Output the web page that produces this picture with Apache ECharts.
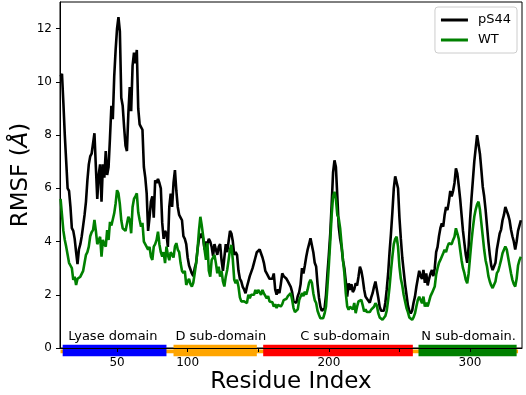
<!DOCTYPE html>
<html>
<head>
<meta charset="utf-8">
<script src="https://cdn.jsdelivr.net/npm/echarts@6/dist/echarts.min.js"></script>
<style>
  html, body { margin: 0; padding: 0; background: #fff; }
  #chart { width: 526px; height: 395px; }
</style>
</head>
<body>
<div id="chart"></div>
<script>
// RMSF per residue (residue 10 onwards)
const firstResidue = 10;
const pS44 = [
  10.2, 10.3, 9.2, 8.0, 7.0, 6.0, 5.9, 5.3, 4.5, 4.4,
  4.1, 3.6, 3.15, 3.7, 3.9, 4.2, 4.6, 5.0, 5.5, 6.3,
  6.9, 7.2, 7.3, 7.35, 8.07, 6.8, 5.6, 6.5, 6.9, 5.5,
  6.9, 6.4, 7.4, 6.5, 6.8, 7.9, 9.1, 8.6, 10.2, 11.2,
  12.0, 12.43, 11.9, 9.4, 9.1, 8.3, 7.6, 7.4, 8.8, 9.8,
  8.9, 10.6, 11.1, 10.7, 11.2, 9.0, 8.4, 8.3, 8.2, 6.8,
  6.4, 5.8, 4.4, 4.9, 5.5, 5.7, 4.9, 6.3, 6.2, 6.35,
  6.2, 6.0, 4.7, 4.1, 4.4, 4.3, 3.8, 5.3, 5.8, 5.3,
  6.2, 6.68, 5.9, 5.3, 5.0, 4.9, 4.8, 4.2, 4.1, 3.9,
  3.4, 3.1, 2.95, 2.8, 2.7, 3.0, 3.2, 3.7, 4.1, 4.2,
  4.3, 4.1, 3.7, 4.0, 3.9, 4.1, 4.0, 3.8, 3.45, 3.9,
  3.7, 3.5, 3.8, 3.9, 3.3, 2.9, 3.4, 3.9, 3.6, 4.0,
  4.4, 4.3, 4.0, 3.5, 3.6, 3.5, 2.9, 2.6, 2.5, 2.3,
  2.2, 2.06, 2.3, 2.5, 2.7, 2.7, 3.0, 3.2, 3.4, 3.6,
  3.65, 3.7, 3.75, 3.4, 3.2, 2.9, 2.8, 2.7, 2.6, 2.55,
  2.6, 2.8, 2.2, 2.0, 2.2, 2.06, 2.4, 2.8, 2.7, 2.75,
  2.6, 2.5, 2.4, 2.3, 2.1, 1.75, 1.7, 1.7, 1.95, 2.1,
  2.4, 3.0, 2.8, 3.1, 3.43, 3.7, 3.9, 4.12, 4.06, 3.6,
  3.2, 3.06, 2.4, 1.9, 1.56, 1.4, 1.37, 1.5, 2.0, 2.8,
  3.5, 4.3, 5.4, 6.6, 7.05, 6.8, 5.7, 4.56, 4.1, 3.8,
  3.3, 3.0, 2.5, 1.93, 2.43, 2.18, 2.4, 2.1, 2.2, 2.43,
  2.35, 2.68, 3.06, 2.9, 2.6, 2.2, 1.93, 1.85, 1.8, 1.7,
  1.9, 2.06, 2.3, 2.5, 2.56, 1.9, 1.55, 1.4, 1.37, 1.4,
  1.7, 2.2, 2.8, 3.6, 4.3, 5.1, 6.0, 6.45, 6.5, 6.0,
  4.9, 4.1, 3.4, 2.9, 2.4, 2.0, 1.6, 1.4, 1.3, 1.4,
  1.7, 1.93, 2.3, 2.6, 2.9, 2.7, 2.6, 2.93, 2.45, 2.8,
  2.35, 2.6, 2.8, 2.93, 2.7, 3.0, 3.6, 3.8, 4.2, 4.5,
  4.68, 4.56, 5.0, 5.3, 5.18, 5.5, 5.9, 5.7, 5.9, 6.2,
  6.75, 6.55, 6.1, 5.6, 5.0, 4.4, 3.94, 3.5, 3.2, 3.8,
  4.8, 5.6, 6.3, 7.0, 7.5, 8.0, 8.0, 7.3, 6.7, 6.06,
  5.7, 5.2, 4.6, 4.0, 3.5, 3.1, 2.93, 2.95, 3.2, 3.7,
  4.0, 4.3, 4.45, 4.8, 5.0, 5.3, 5.3, 5.0, 4.8, 4.45,
  4.2, 4.0, 3.7, 4.0, 4.4, 4.6, 4.8
];
const wt = [
  5.6, 5.0, 4.4, 4.06, 3.8, 3.5, 3.2, 3.1, 3.0, 2.56,
  2.68, 2.37, 2.6, 2.65, 2.68, 2.68, 2.9, 3.2, 3.5, 3.6,
  3.81, 4.2, 4.35, 4.43, 4.81, 4.4, 3.9, 3.85, 4.18, 3.43,
  4.06, 3.9, 3.81, 4.43, 4.06, 4.74, 4.6, 4.56, 5.06, 5.43,
  5.93, 5.81, 5.4, 4.8, 4.5, 4.43, 4.4, 4.43, 4.93, 4.81,
  4.31, 5.3, 5.6, 5.7, 5.81, 5.1, 4.81, 4.56, 4.7, 4.0,
  4.0, 3.8, 3.69, 3.8, 3.43, 3.31, 3.81, 3.9, 4.06, 4.37,
  3.9, 3.6, 3.43, 3.6, 3.19, 3.81, 3.5, 3.3, 3.6, 3.5,
  3.4, 3.81, 3.94, 3.7, 3.6, 3.19, 2.9, 2.81, 2.9, 2.37,
  2.5, 2.6, 2.4, 2.31, 2.45, 2.81, 3.18, 3.69, 4.4, 4.93,
  4.6, 4.2, 3.69, 3.31, 3.94, 2.9, 2.68, 3.3, 3.4, 3.5,
  3.19, 2.81, 3.06, 2.68, 2.9, 2.5, 2.31, 2.68, 2.93, 3.3,
  3.7, 3.87, 3.31, 2.56, 2.43, 2.56, 2.31, 1.9, 1.75, 1.8,
  1.75, 1.7, 1.69, 2.0, 1.87, 2.0, 2.06, 2.0, 2.18, 2.05,
  2.18, 2.1, 2.0, 2.18, 2.05, 2.1, 1.87, 1.95, 1.75, 1.69,
  1.72, 1.56, 1.65, 1.5, 1.62, 1.65, 1.56, 1.65, 1.8, 1.87,
  1.85, 1.95, 2.0, 2.06, 1.81, 1.5, 1.35, 1.31, 1.45, 1.8,
  1.93, 2.06, 1.95, 2.12, 2.0, 2.2, 2.45, 2.56, 2.45, 2.06,
  1.8, 1.69, 1.4, 1.25, 1.12, 1.1, 1.12, 1.3, 1.56, 2.3,
  3.1, 4.0, 5.0, 5.7, 5.87, 5.6, 5.0, 4.87, 4.5, 3.9,
  3.3, 2.81, 2.06, 1.56, 1.44, 1.55, 1.62, 1.45, 1.69, 1.31,
  1.55, 1.75, 1.78, 1.81, 1.6, 1.37, 1.45, 1.35, 1.31, 1.35,
  1.44, 1.43, 1.55, 1.68, 1.6, 1.31, 1.15, 1.1, 1.06, 1.1,
  1.2, 1.4, 1.81, 2.3, 2.9, 3.43, 3.9, 4.1, 4.18, 3.81,
  3.06, 2.6, 2.35, 2.0, 1.75, 1.5, 1.35, 1.15, 1.1, 1.06,
  1.15, 1.3, 1.56, 1.8, 1.93, 1.8, 1.68, 1.93, 1.56, 1.7,
  1.56, 1.75, 1.95, 2.06, 2.0, 2.31, 2.75, 3.0, 3.2, 3.31,
  3.25, 3.56, 3.69, 3.6, 3.8, 3.94, 4.0, 3.9, 4.06, 4.18,
  4.5, 4.31, 4.1, 3.69, 3.3, 3.0, 2.81, 2.56, 2.43, 2.8,
  3.4, 4.0, 4.5, 4.93, 5.2, 5.4, 5.5, 5.2, 4.7, 4.2,
  3.7, 3.3, 3.06, 2.7, 2.5, 2.35, 2.25, 2.18, 2.5, 2.81,
  2.9, 3.1, 3.31, 3.56, 3.69, 3.81, 3.7, 3.4, 3.1, 2.81,
  2.56, 2.4, 2.31, 2.6, 3.1, 3.3, 3.43
];
const residues = pS44.map((_, i) => firstResidue + i);

// domain annotation along the x axis
const domainNames = ['Lyase domain', 'D sub-domain', 'C sub-domain', 'N sub-domain.'];
const domainStart = [11.5, 90, 153.5, 263.5];
const domainEnd = [85, 149, 259.5, 333];
const domainLabelAt = [47, 123.5, 211.5, 299];
const trackSpan = [10, 334];

const xTicks = [50, 100, 150, 200, 250, 300];
const xLabels = [50, 100, 200, 300];
const yTicks = [0, 2, 4, 6, 8, 10, 12];

const domainColors = ['#0000ff', '#ffa500', '#ff0000', '#008000'];
const font = 'DejaVu Sans';

const chart = echarts.init(document.getElementById('chart'));

const option = {
  animation: false,
  textStyle: { fontFamily: font },
  grid: {
    left: 60, right: 4, top: 2, bottom: 47,
    outerBoundsMode: 'none',
    containLabel: false,
    show: true, borderColor: '#000', borderWidth: 1
  },
  legend: {
    orient: 'vertical',
    top: 7, right: 9,
    padding: [6, 6],
    itemGap: 6,
    itemWidth: 27,
    itemHeight: 3,
    icon: 'rect',
    backgroundColor: 'rgba(255,255,255,0.8)',
    borderColor: '#cccccc',
    borderWidth: 1,
    borderRadius: 3,
    textStyle: { fontFamily: font, fontSize: 13, color: '#000', padding: [0, 0, 0, 5], lineHeight: 14 },
    data: ['pS44', 'WT']
  },
  xAxis: {
    type: 'value',
    min: 9.6, max: 336.8,
    z: 5,
    name: 'Residue Index',
    nameLocation: 'middle',
    nameGap: 23,
    nameMoveOverlap: false,
    nameTextStyle: { fontFamily: font, fontSize: 23, color: '#000' },
    axisLine: { lineStyle: { color: '#000', width: 1 } },
    axisTick: { show: true, length: 4, lineStyle: { color: '#000' }, customValues: xTicks },
    axisLabel: { fontFamily: font, fontSize: 12, color: '#000', margin: 9, customValues: xLabels },
    splitLine: { show: false }
  },
  yAxis: {
    type: 'value',
    min: 0, max: 13,
    name: '{n|RMSF (}{i|Å}{n|)}',
    nameLocation: 'middle',
    nameRotate: 90,
    nameGap: 27,
    nameMoveOverlap: false,
    nameTextStyle: {
      rich: {
        n: { fontFamily: font, fontSize: 23, color: '#000' },
        i: { fontFamily: font, fontSize: 23, color: '#000', fontStyle: 'italic' }
      }
    },
    axisLine: { show: true, lineStyle: { color: '#000', width: 1 } },
    axisTick: { show: true, length: 4, lineStyle: { color: '#000' }, customValues: yTicks },
    axisLabel: { fontFamily: font, fontSize: 12, color: '#000', margin: 8, customValues: yTicks },
    splitLine: { show: false }
  },
  series: [
    {
      name: 'pS44',
      type: 'line',
      data: residues.map((r, i) => [r, pS44[i]]),
      symbol: 'none',
      lineStyle: { color: '#000000', width: 2.6 },
      itemStyle: { color: '#000000' },
      z: 3
    },
    {
      name: 'WT',
      type: 'line',
      data: residues.map((r, i) => [r, wt[i]]),
      symbol: 'none',
      lineStyle: { color: '#008000', width: 2.6 },
      itemStyle: { color: '#008000' },
      z: 4
    },
    {
      type: 'custom',
      clip: false,
      silent: true,
      z: 1,
      data: [trackSpan],
      encode: { x: [0, 1] },
      renderItem: function (params, api) {
        const a = api.coord([api.value(0), -0.06]);
        const b = api.coord([api.value(1), -0.2]);
        return {
          type: 'rect',
          shape: { x: a[0], y: a[1], width: b[0] - a[0], height: b[1] - a[1] },
          style: { fill: '#ffa500' }
        };
      }
    },
    {
      type: 'custom',
      clip: false,
      silent: true,
      z: 2,
      data: domainNames.map((n, i) => [domainStart[i], domainEnd[i], domainLabelAt[i], i]),
      encode: { x: [0, 1, 2] },
      renderItem: function (params, api) {
        const i = api.value(3);
        const a = api.coord([api.value(0), 0.12]);
        const b = api.coord([api.value(1), -0.31]);
        const t = api.coord([api.value(2), 0.2]);
        return {
          type: 'group',
          children: [
            {
              type: 'rect',
              shape: { x: a[0], y: a[1], width: b[0] - a[0], height: b[1] - a[1] },
              style: { fill: domainColors[i] }
            },
            {
              type: 'text',
              style: {
                x: t[0], y: t[1],
                text: domainNames[i],
                fill: '#000',
                font: '13px "DejaVu Sans"',
                align: 'center',
                verticalAlign: 'bottom'
              }
            }
          ]
        };
      }
    }
  ]
};

chart.setOption(option);
window.addEventListener('resize', () => chart.resize());
</script>
</body>
</html>
